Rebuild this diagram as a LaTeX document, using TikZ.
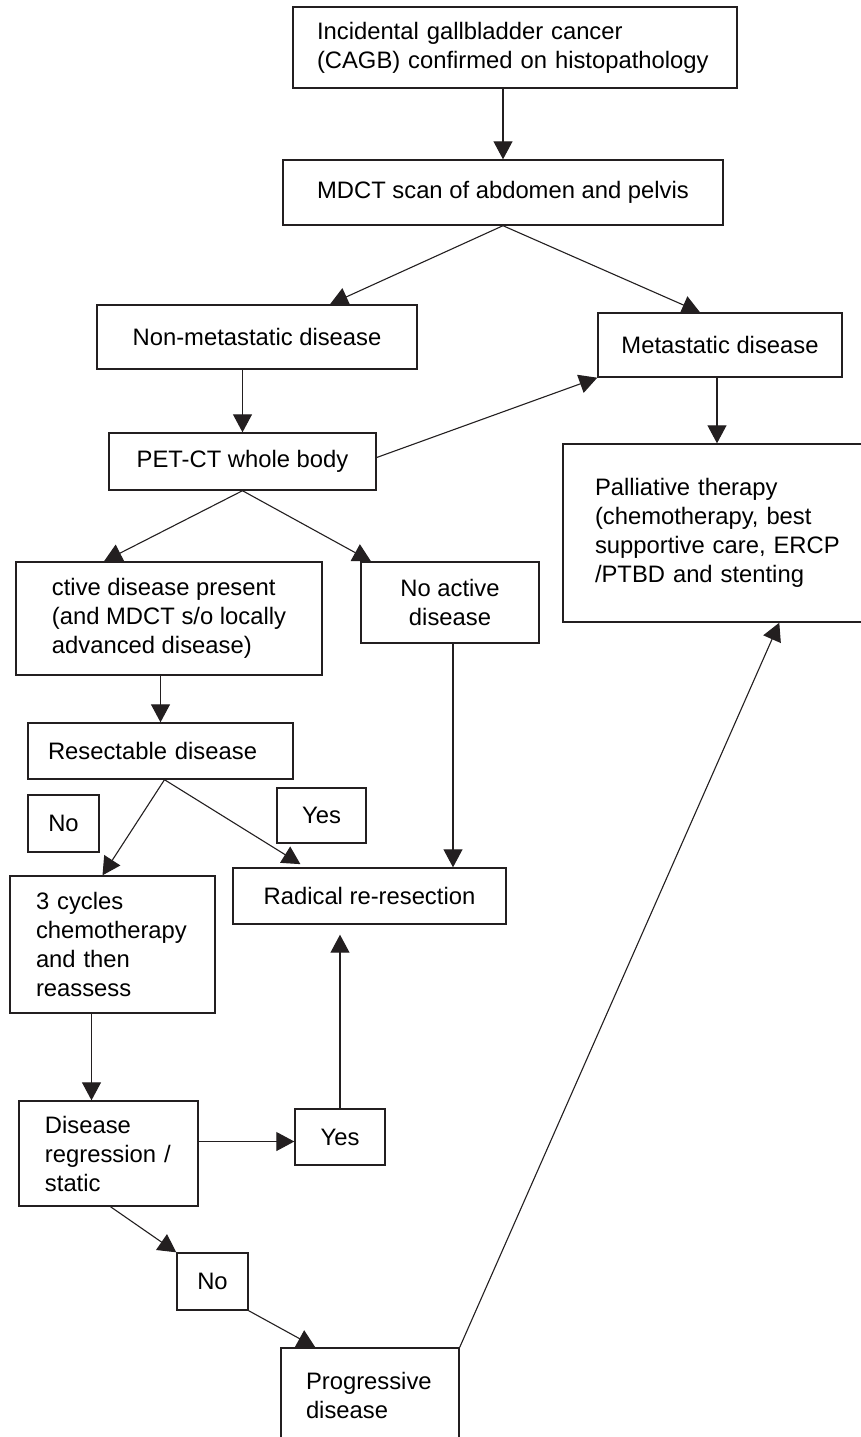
\documentclass[tikz,border=0pt]{standalone}
\usepackage{fontspec}
\setmainfont{Liberation Sans}
\usetikzlibrary{arrows.meta}
\definecolor{ink}{RGB}{35,31,32}
\begin{document}
\begin{tikzpicture}[x=0.5pt,y=-0.5pt,
  box/.style={draw=ink, line width=0.7pt, inner sep=0pt, text=black,
    font=\fontsize{11.9pt}{14.5pt}\selectfont},
  cbox/.style n args={2}{box, minimum width=#1, minimum height=#2, align=center},
  lcbox/.style n args={2}{box, minimum width=#1, minimum height=#2, align=left},
  lbox/.style n args={4}{box, minimum width=#1, minimum height=#2, text width=#3, inner xsep=#4, align=left},
  arr/.style={draw=ink, line width=0.55pt, -{Triangle[length=9pt,width=9.5pt]}}
]
\clip (0,0) rectangle (861,1437);
\fill[white] (0,0) rectangle (861,1437);

\node[lbox={222pt}{40.5pt}{198pt}{12pt}] (b1) at (515,47.5) {Incidental gallbladder cancer\\(CAGB) confirmed on histopathology};
\node[cbox={220pt}{32.5pt}] (mdct) at (503,192.5) {MDCT scan of abdomen and pelvis};
\node[cbox={160pt}{32pt}] (nonmet) at (257,337) {Non-metastatic disease};
\node[cbox={122pt}{32pt}] (met) at (720,345) {Metastatic disease};
\node[cbox={133.5pt}{28.5pt}] (pet) at (242.5,461.5) {PET-CT whole body};
\node[lbox={170pt}{89pt}{138pt}{16pt}] (pall) at (733,533) {Palliative therapy\\(chemotherapy, best\\supportive care, ERCP\\/PTBD and stenting};
\node[lcbox={153pt}{56.5pt}] (active) at (169,618.5) {ctive disease present\\(and MDCT s/o locally\\advanced disease)};
\node[cbox={89pt}{40.5pt}] (noact) at (450,602.5) {No active\\disease};
\node[lbox={132.5pt}{28pt}{112.5pt}{10pt}] (resect) at (160.5,751) {Resectable disease};
\node[cbox={35.5pt}{28.5pt}] (nol) at (63.5,823.5) {No};
\node[cbox={44.5pt}{27.5pt}] (yesu) at (321.5,815.5) {Yes};
\node[cbox={136.5pt}{28pt}] (rad) at (369.5,896) {Radical re-resection};
\node[lbox={102.5pt}{68.5pt}{76.5pt}{13pt}] (cyc) at (112.5,944.5) {3 cycles\\chemotherapy\\and then\\reassess};
\node[lbox={89.5pt}{52.5pt}{63.5pt}{13pt}] (dr) at (108.5,1153.5) {Disease\\regression /\\static};
\node[cbox={45pt}{28pt}] (yesl) at (340,1137) {Yes};
\node[cbox={35.5pt}{28.5pt}] (nolo) at (212.5,1281.5) {No};
\node[lbox={89pt}{47.5pt}{64pt}{12.5pt}] (prog) at (370,1395.5) {Progressive\\disease};

\draw[arr] (b1.south -| mdct.north) -- (mdct.north);
\draw[arr] (mdct.south) -- ([xshift=36.5pt]nonmet.north);
\draw[arr] (mdct.south) -- ([xshift=-10pt]met.north);
\draw[arr] (pet.north |- nonmet.south) -- (pet.north);
\draw[arr] ([yshift=2pt]pet.east) -- (met.south west);
\draw[arr] ([xshift=-1.5pt]met.south) -- ([xshift=-1.5pt]met.south |- pall.north);
\draw[arr] (pet.south) -- ([xshift=-32.5pt]active.north);
\draw[arr] (pet.south) -- ([xshift=-39.5pt]noact.north);
\draw[arr] (resect.north |- active.south) -- (resect.north);
\draw[arr] ([xshift=2pt]resect.south) -- ([xshift=-5pt]cyc.north);
\draw[arr, shorten >=3pt] ([xshift=2pt]resect.south) -- ([xshift=-32pt]rad.north);
\draw[arr] ([xshift=1.5pt]noact.south) -- ([xshift=1.5pt]noact.south |- rad.north);
\draw[arr] ([xshift=-10.5pt]cyc.south) -- ([xshift=-10.5pt]cyc.south |- dr.north);
\draw[arr] ([yshift=6pt]dr.east) -- ([yshift=6pt]dr.east -| yesl.west);
\draw[arr, shorten >=5pt] (yesl.north) -- (yesl.north |- rad.south);
\draw[arr] ([xshift=1pt]dr.south) -- (nolo.north west);
\draw[arr] (nolo.south east) -- ([xshift=17.5pt]prog.north west);
\draw[arr] (prog.north east) -- ([xshift=108.5pt]pall.south west);
\end{tikzpicture}
\end{document}
